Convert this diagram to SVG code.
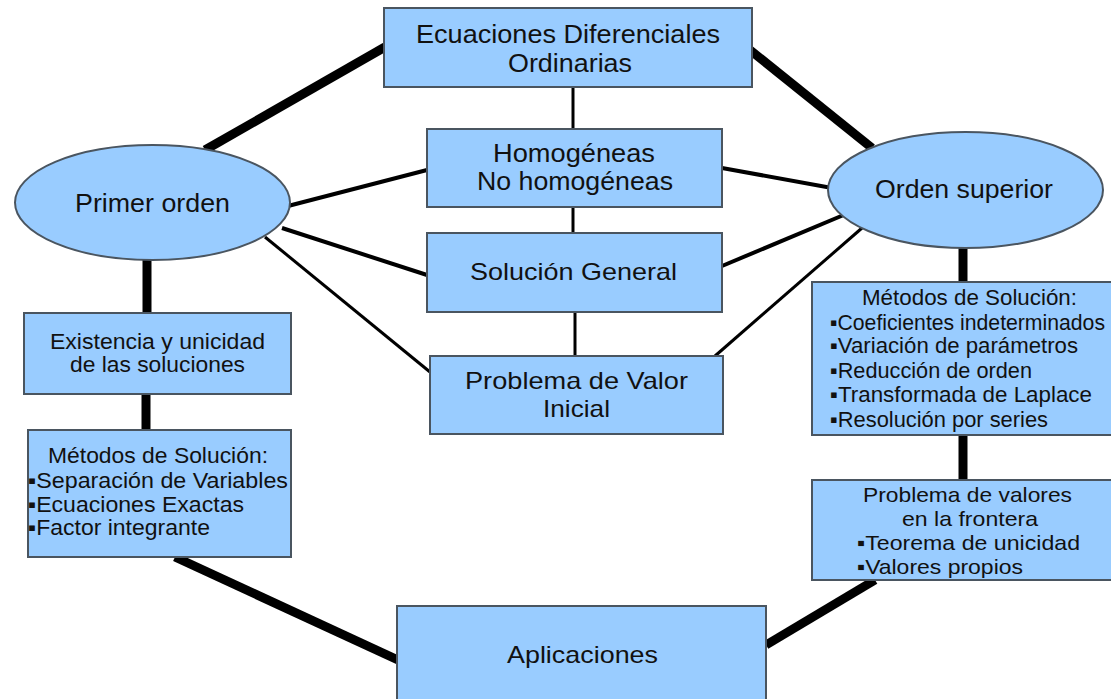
<svg xmlns="http://www.w3.org/2000/svg" width="1111" height="699" viewBox="0 0 1111 699">
<style>
.n{fill:#99ccff;stroke:#4a5560;stroke-width:2}
.t{font-family:"Liberation Sans",Arial,sans-serif;fill:#111}
.L{font-size:25px}
.M{font-size:24px}
.S{font-size:22px}
.s{font-size:21px}
.k{stroke:#000;stroke-width:9;fill:none}
.m{stroke:#000;stroke-width:4;fill:none}
.f{stroke:#000;stroke-width:3;fill:none}
</style>
<rect width="1111" height="699" fill="#fff"/>
<g id="connectors">
<line class="k" x1="385" y1="47" x2="205" y2="150"/>
<line class="k" x1="750" y1="50" x2="872" y2="148"/>
<line class="f" x1="573" y1="87" x2="573" y2="129"/>
<line class="f" x1="573" y1="207" x2="573" y2="233"/>
<line class="f" x1="575" y1="312" x2="575" y2="356"/>
<line class="m" x1="288" y1="206" x2="427" y2="170"/>
<line class="m" x1="282" y1="228" x2="427" y2="275"/>
<line class="f" x1="265" y1="237" x2="430" y2="372"/>
<line class="m" x1="722" y1="168" x2="832" y2="188"/>
<line class="m" x1="722" y1="266" x2="846" y2="214"/>
<line class="f" x1="715" y1="356" x2="862" y2="228"/>
<line class="k" x1="147" y1="260" x2="147" y2="313"/>
<line class="k" x1="146" y1="394" x2="146" y2="430"/>
<line class="k" x1="175" y1="557" x2="398" y2="660"/>
<line class="k" x1="963" y1="248" x2="963" y2="282"/>
<line class="k" x1="963" y1="435" x2="963" y2="480"/>
<line class="k" x1="875" y1="580" x2="766" y2="645"/>
</g>
<g id="edo">
<rect class="n" x="384" y="8" width="368" height="79"/>
<text class="t L" x="416" y="43" textLength="304" lengthAdjust="spacingAndGlyphs">Ecuaciones Diferenciales</text>
<text class="t L" x="508" y="72" textLength="124" lengthAdjust="spacingAndGlyphs">Ordinarias</text>
</g>
<g id="homogeneas">
<rect class="n" x="427" y="129" width="295" height="78"/>
<text class="t L" x="493" y="162" textLength="162" lengthAdjust="spacingAndGlyphs">Homogéneas</text>
<text class="t L" x="477" y="190" textLength="196" lengthAdjust="spacingAndGlyphs">No homogéneas</text>
</g>
<g id="solucion-general">
<rect class="n" x="427" y="233" width="295" height="79"/>
<text class="t M" x="470" y="280" textLength="207" lengthAdjust="spacingAndGlyphs">Solución General</text>
</g>
<g id="pvi">
<rect class="n" x="430" y="356" width="293" height="78"/>
<text class="t M" x="465" y="389" textLength="223" lengthAdjust="spacingAndGlyphs">Problema de Valor</text>
<text class="t M" x="543" y="417" textLength="67" lengthAdjust="spacingAndGlyphs">Inicial</text>
</g>
<g id="primer-orden">
<ellipse class="n" cx="152.5" cy="202.5" rx="137.5" ry="57.5"/>
<text class="t L" x="75" y="212" textLength="155" lengthAdjust="spacingAndGlyphs">Primer orden</text>
</g>
<g id="orden-superior">
<ellipse class="n" cx="965.5" cy="190" rx="137.5" ry="58"/>
<text class="t L" x="875" y="198" textLength="178" lengthAdjust="spacingAndGlyphs">Orden superior</text>
</g>
<g id="existencia">
<rect class="n" x="24" y="313" width="267" height="81"/>
<text class="t S" x="50" y="349" textLength="215" lengthAdjust="spacingAndGlyphs">Existencia y unicidad</text>
<text class="t S" x="70" y="372" textLength="175" lengthAdjust="spacingAndGlyphs">de las soluciones</text>
</g>
<g id="metodos-primer">
<rect class="n" x="28" y="430" width="263" height="127"/>
<text class="t S" x="48" y="463" textLength="220" lengthAdjust="spacingAndGlyphs">Métodos de Solución:</text>
<text class="t S" x="28" y="488" textLength="260" lengthAdjust="spacingAndGlyphs">▪Separación de Variables</text>
<text class="t S" x="28" y="512" textLength="216" lengthAdjust="spacingAndGlyphs">▪Ecuaciones Exactas</text>
<text class="t S" x="28" y="535" textLength="182" lengthAdjust="spacingAndGlyphs">▪Factor integrante</text>
</g>
<g id="metodos-superior">
<rect class="n" x="812" y="282" width="310" height="153"/>
<text class="t S" x="862" y="305" textLength="215" lengthAdjust="spacingAndGlyphs">Métodos de Solución:</text>
<text class="t S" x="830" y="330" textLength="275" lengthAdjust="spacingAndGlyphs">▪Coeficientes indeterminados</text>
<text class="t S" x="830" y="353" textLength="248" lengthAdjust="spacingAndGlyphs">▪Variación de parámetros</text>
<text class="t S" x="830" y="378" textLength="202" lengthAdjust="spacingAndGlyphs">▪Reducción de orden</text>
<text class="t S" x="830" y="402" textLength="262" lengthAdjust="spacingAndGlyphs">▪Transformada de Laplace</text>
<text class="t S" x="830" y="427" textLength="218" lengthAdjust="spacingAndGlyphs">▪Resolución por series</text>
</g>
<g id="frontera">
<rect class="n" x="812" y="480" width="310" height="100"/>
<text class="t s" x="863" y="502" textLength="209" lengthAdjust="spacingAndGlyphs">Problema de valores</text>
<text class="t s" x="902" y="526" textLength="136" lengthAdjust="spacingAndGlyphs">en la frontera</text>
<text class="t s" x="857" y="550" textLength="223" lengthAdjust="spacingAndGlyphs">▪Teorema de unicidad</text>
<text class="t s" x="857" y="574" textLength="166" lengthAdjust="spacingAndGlyphs">▪Valores propios</text>
</g>
<g id="aplicaciones">
<rect class="n" x="397" y="606" width="369" height="100"/>
<text class="t M" x="507" y="663" textLength="151" lengthAdjust="spacingAndGlyphs">Aplicaciones</text>
</g>
</svg>
